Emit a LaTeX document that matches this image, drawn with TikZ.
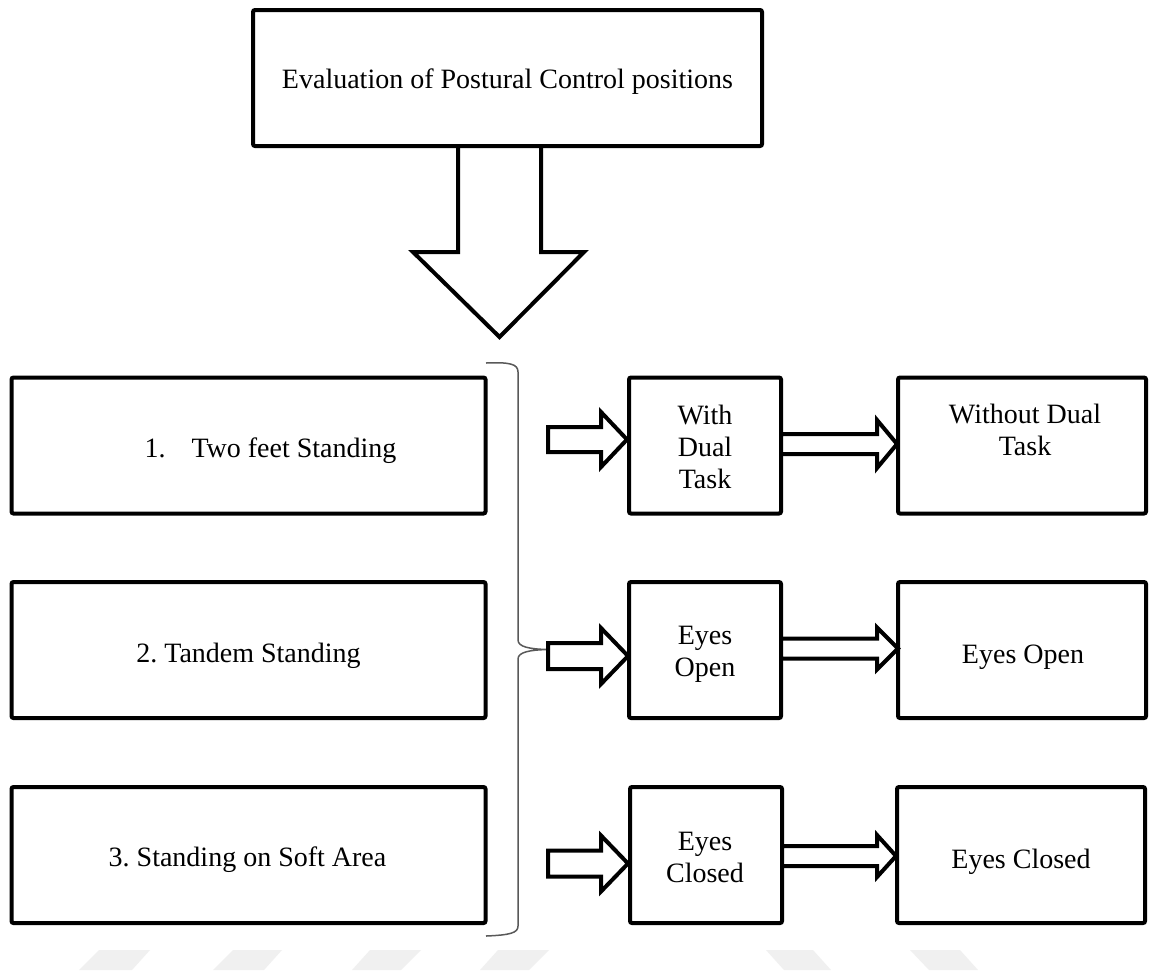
\documentclass[tikz,border=0pt]{standalone}
\usepackage{fontspec}
\setmainfont{Liberation Serif}
\frenchspacing
\newcommand{\blkarrow}[6]{% left x, back x, tip x, centre y, shaft half, head half
  \draw[barrow] (#1,{#4-#5}) -- (#2,{#4-#5}) -- (#2,{#4-#6}) -- (#3,#4) -- (#2,{#4+#6}) -- (#2,{#4+#5}) -- (#1,{#4+#5}) -- cycle;}
\begin{document}
\begin{tikzpicture}[x=0.5pt,y=-0.5pt,
  box/.style={draw, line width=2pt, rounded corners=1pt, inner sep=0pt},
  lbox/.style={box, minimum width=237pt, minimum height=68pt},
  mbox/.style={box, minimum width=76pt, minimum height=68pt},
  rbox/.style={box, minimum width=124pt, minimum height=68pt},
  lbl/.style={font=\fontsize{14}{16}\selectfont, anchor=base, align=center, inner sep=0pt},
  barrow/.style={draw, line width=2pt, line join=miter, fill=white},
  brace/.style={draw=black!65, line width=0.75pt},
  wm/.style={fill=black!6}]
\useasboundingbox (0,0) rectangle (1149,970);
\fill[white] (0,0) rectangle (1149,970);

% watermark shapes
\fill[wm] (79,970) -- (99,950) -- (150,950) -- (132,970) -- cycle;
\fill[wm] (213,970) -- (233,950) -- (282,950) -- (264,970) -- cycle;
\fill[wm] (352,970) -- (370,950) -- (421,950) -- (401,970) -- cycle;
\fill[wm] (480,970) -- (498,950) -- (549,950) -- (529,970) -- cycle;
\fill[wm] (784,970) -- (766,950) -- (813,950) -- (831,970) -- cycle;
\fill[wm] (929,970) -- (910,950) -- (960,950) -- (978,970) -- cycle;

% boxes
\node[box, minimum width=254.5pt, minimum height=68pt] (top) at (507.5,78) {};
\node[lbox] (L1) at (248.5,445.5) {};
\node[lbox] (L2) at (248.5,650) {};
\node[lbox] (L3) at (248.5,855) {};
\node[mbox] (M1) at (705,445.5) {};
\node[mbox] (M2) at (705,650) {};
\node[mbox] (M3) at (706,855) {};
\node[rbox] (R1) at (1022,445.5) {};
\node[rbox] (R2) at (1022,650) {};
\node[rbox] (R3) at (1021,855) {};

% labels (multi-line labels are anchored at the baseline of their last line)
\node[lbl] (ttop) at (507.5,88) {Evaluation of Postural Control positions};
\node[lbl] (t1) at (270.5,457) {1.\hspace{13pt}Two feet Standing};
\node[lbl] (t2) at (248.5,662) {2. Tandem Standing};
\node[lbl] (t3) at (247.5,866) {3. Standing on Soft Area};
\node[lbl] (tm1) at (705,488) {With\\Dual\\Task};
\node[lbl] (tm2) at (705,676) {Eyes\\Open};
\node[lbl] (tm3) at (705,882) {Eyes\\Closed};
\node[lbl] (tr1) at (1025,455) {Without Dual\\Task};
\node[lbl] (tr2) at (1023,663) {Eyes Open};
\node[lbl] (tr3) at (1021,868) {Eyes Closed};

% big down arrow from the top box
\draw[line width=2pt, line join=miter] (458,146) -- (458,252) -- (413,252) -- (499.5,337) -- (584,252) -- (541,252) -- (541,146);

% brace
\draw[brace] (486,363) .. controls (510,362) and (518,364) .. (518,372) -- (518,640)
  .. controls (518,647) and (530,649) .. (547,649.5)
  .. controls (530,650) and (518,652) .. (518,659) -- (518,926)
  .. controls (518,933) and (510,935) .. (486,936);

% block arrows into the middle column
\blkarrow{548}{601}{627}{439.5}{12.5}{27.5}
\blkarrow{548}{601}{628}{656}{13}{28}
\blkarrow{548}{601}{628}{863.5}{13}{28}
% block arrows into the right column
\blkarrow{781}{877}{897}{444}{10}{24}
\blkarrow{781}{877}{898}{648.5}{10}{21}
\blkarrow{782}{877}{896}{856}{10}{21}
\end{tikzpicture}
\end{document}
